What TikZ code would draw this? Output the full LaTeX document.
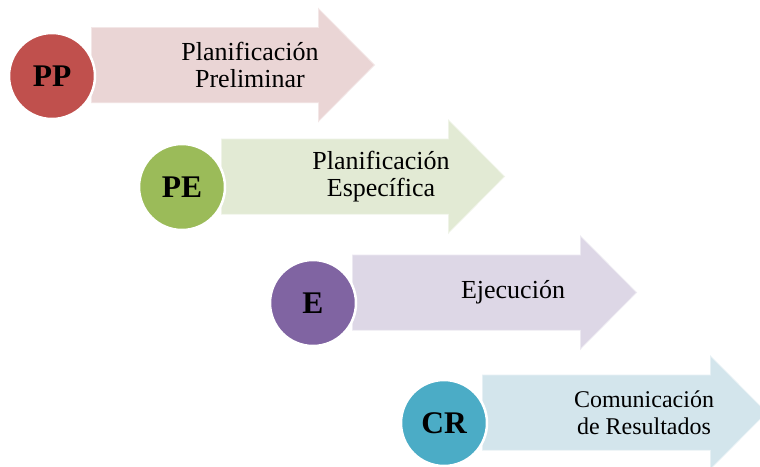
\documentclass[tikz,border=0pt]{standalone}
\usepackage{fontspec}
\setmainfont{Liberation Serif}
\definecolor{cRed}{HTML}{C0504D}
\definecolor{cGreen}{HTML}{9BBB59}
\definecolor{cPurple}{HTML}{8064A2}
\definecolor{cTeal}{HTML}{4BACC6}
\definecolor{fRed}{RGB}{234,213,213}
\definecolor{fGreen}{RGB}{226,234,212}
\definecolor{fPurple}{RGB}{221,215,230}
\definecolor{fTeal}{RGB}{211,229,236}
\tikzset{
  bigarrow/.style={draw=white, draw opacity=0.45, line width=1.5pt},
  badge/.style={circle, draw=white, line width=2.5pt, minimum size=86pt, inner sep=0pt,
    font=\fontsize{31.5}{33}\selectfont\bfseries, text=black},
  label/.style={align=center, font=\fontsize{26}{27}\selectfont, text=black, inner sep=0pt},
  smalllabel/.style={label, font=\fontsize{24}{27}\selectfont}
}
\begin{document}
\begin{tikzpicture}[x=1pt,y=-1pt]
\useasboundingbox (0,0) rectangle (760,466);
\clip (0,0) rectangle (760,466);
\fill[white] (0,0) rectangle (760,466);
% arrow 1
\path[bigarrow, fill=fRed] (91,27) -- (318,27) -- (318,7.5) -- (375,65) -- (318,122.5) -- (318,103) -- (91,103) -- cycle;
\node[label] (t1) at (250,65) {Planificación\\Preliminar};
\node[badge, fill=cRed] (pp) at (52,76) {PP};
% arrow 2
\path[bigarrow, fill=fGreen] (221,138.5) -- (448,138.5) -- (448,119) -- (505,176.5) -- (448,234) -- (448,214.5) -- (221,214.5) -- cycle;
\node[label] (t2) at (381,176.5) {Planificación\\Específica};
\node[badge, fill=cGreen] (pe) at (182,187) {PE};
% arrow 3
\path[bigarrow, fill=fPurple] (352,254.5) -- (580,254.5) -- (580,235) -- (637,292.5) -- (580,350) -- (580,330.5) -- (352,330.5) -- cycle;
\node[label] (t3) at (513,292.5) {Ejecución};
\node[badge, fill=cPurple] (e) at (313,303) {E};
% arrow 4
\path[bigarrow, fill=fTeal] (482,374.5) -- (710,374.5) -- (710,355) -- (767,412.5) -- (710,470) -- (710,450.5) -- (482,450.5) -- cycle;
\node[smalllabel] (t4) at (644,412.5) {Comunicación\\de Resultados};
\node[badge, fill=cTeal] (cr) at (444,423) {CR};
\end{tikzpicture}
\end{document}
